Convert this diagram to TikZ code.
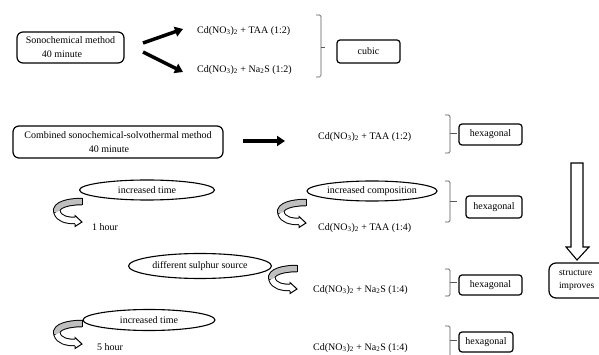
\documentclass[tikz,border=0pt]{standalone}
\usepackage{fontspec}
\setmainfont{Liberation Serif}
\usetikzlibrary{shapes.geometric,arrows.meta}
\newcommand{\CdN}{Cd(NO\textsubscript{3})\textsubscript{2}}
\tikzset{
  curl/.pic={
    \draw[line width=7.5pt] (0,3.5) .. controls (-14,3.5) and (-27,7) .. (-25,14) .. controls (-23,21) and (-15,22.5) .. (-7,22.5);
    \draw[line width=5.5pt, black!25] (0,3.5) .. controls (-14,3.5) and (-27,7) .. (-25,14);
    \draw[line width=5.5pt, white] (-25,14) .. controls (-23,21) and (-15,22.5) .. (-7,22.5);
    \draw[line width=1pt] (0,-0.25) -- (0,7.25);
    \fill[white] (-7,17.5) -- (0,24) -- (-7,28.5) -- cycle;
    \draw[line width=1pt, line join=miter] (-7,19.2) -- (-7,17.5) -- (0,24) -- (-7,28.5) -- (-7,25.8);
  }
}
\begin{document}
\begin{tikzpicture}[x=1pt,y=-1pt,
  every node/.style={font=\fontsize{10}{14}\selectfont},
  bigbox/.style={draw, rounded corners=6pt, line width=1.2pt, inner sep=0pt, align=center},
  smallbox/.style={draw, rounded corners=3pt, line width=1.2pt, inner sep=0pt},
  oval/.style={draw, ellipse, line width=1.1pt, inner sep=0pt},
  chem/.style={inner sep=0pt, anchor=west},
  brk/.style={draw=black!65, line width=0.7pt, rounded corners=1.5pt},
  bigarrow/.style={line width=3.5pt, -{Triangle[length=8pt,width=10pt]}},
]
\useasboundingbox (0,0) rectangle (599,355);
\clip (0,0) rectangle (599,355);
\fill[white] (0,0) rectangle (599,355);

% top row
\node[bigbox, minimum width=107pt, minimum height=31pt] (sono) at (70.5,47.5)
  {Sonochemical method\\\hspace*{-17pt}40 minute};
\node[chem] (t1) at (197,31) {\CdN{} + TAA (1:2)};
\node[chem] (t2) at (197,70) {\CdN{} + Na\textsubscript{2}S (1:2)};
\coordinate (a1s) at (143,43);
\coordinate (a1e) at (183,29);
\coordinate (a2s) at (143,52);
\coordinate (a2e) at (183,72);
\draw[bigarrow] (a1s) -- (a1e);
\draw[bigarrow] (a2s) -- (a2e);
\draw[brk] (316,15) -- (321,15) -- (321,77) -- (316,77);
\draw[brk] (321,47) -- (325,47);
\node[smallbox, minimum width=63pt, minimum height=23pt] (cubic) at (368.5,51.5) {cubic};

% combined row
\node[bigbox, minimum width=210pt, minimum height=32pt] (combo) at (118,142)
  {Combined sonochemical-solvothermal method\\\hspace*{-18pt}40 minute};
\coordinate (a3s) at (243,141);
\coordinate (a3e) at (285,141);
\draw[bigarrow] (a3s) -- (a3e);
\node[chem] (t3) at (318,137) {\CdN{} + TAA (1:2)};
\draw[brk] (445,115) -- (450,115) -- (450,153) -- (445,153);
\draw[brk] (450,133) -- (457,133);
\node[smallbox, minimum width=63pt, minimum height=21pt] (hex1) at (490.5,134.5) {hexagonal};

% increased time / composition
\node[oval, minimum width=135pt, minimum height=20pt] (e1) at (147,190) {increased time};
\pic (c1) at (82,198) {curl};
\node[chem] (h1) at (92,227) {1 hour};
\node[oval, minimum width=130pt, minimum height=20pt] (e2) at (372,191) {increased composition};
\pic (c2) at (306,199) {curl};
\node[chem] (t4) at (318,228) {\CdN{} + TAA (1:4)};
\draw[brk] (445,181) -- (450,181) -- (450,222) -- (445,222);
\draw[brk] (450,201) -- (457,201);
\node[smallbox, minimum width=56pt, minimum height=22pt] (hex2) at (494,207) {hexagonal};

% different sulphur source
\node[oval, minimum width=143pt, minimum height=25pt] (e3) at (200,266) {different sulphur source};
\pic (c3) at (297,265) {curl};
\node[chem] (t5) at (313,290) {\CdN{} + Na\textsubscript{2}S (1:4)};
\draw[brk] (445,269) -- (450,269) -- (450,296) -- (445,296);
\draw[brk] (450,282) -- (457,282);
\node[smallbox, minimum width=63pt, minimum height=20pt] (hex3) at (490.5,285) {hexagonal};

% increased time 5 hour
\node[oval, minimum width=132pt, minimum height=21pt] (e4) at (149,320) {increased time};
\pic (c4) at (82,320) {curl};
\node[chem] (h5) at (97,347) {5 hour};
\node[chem] (t6) at (313,348) {\CdN{} + Na\textsubscript{2}S (1:4)};
\draw[brk] (445,326) -- (450,326) -- (450,370);
\draw[brk] (450,340) -- (457,340);
\node[smallbox, minimum width=54pt, minimum height=20pt] (hex4) at (486,342) {hexagonal};

% structure improves
\node[bigbox, rounded corners=7pt, minimum width=72pt, minimum height=35pt,
      align=left, text width=52pt, font=\fontsize{9.5}{13.5}\selectfont] (struct) at (585,280.5)
  {structure\\improves};
\draw[line width=1.1pt, fill=white, line join=miter]
  (571,163) -- (583,163) -- (583,247) -- (589,247) -- (577,260) -- (566,247) -- (571,247) -- cycle;
\end{tikzpicture}
\end{document}
